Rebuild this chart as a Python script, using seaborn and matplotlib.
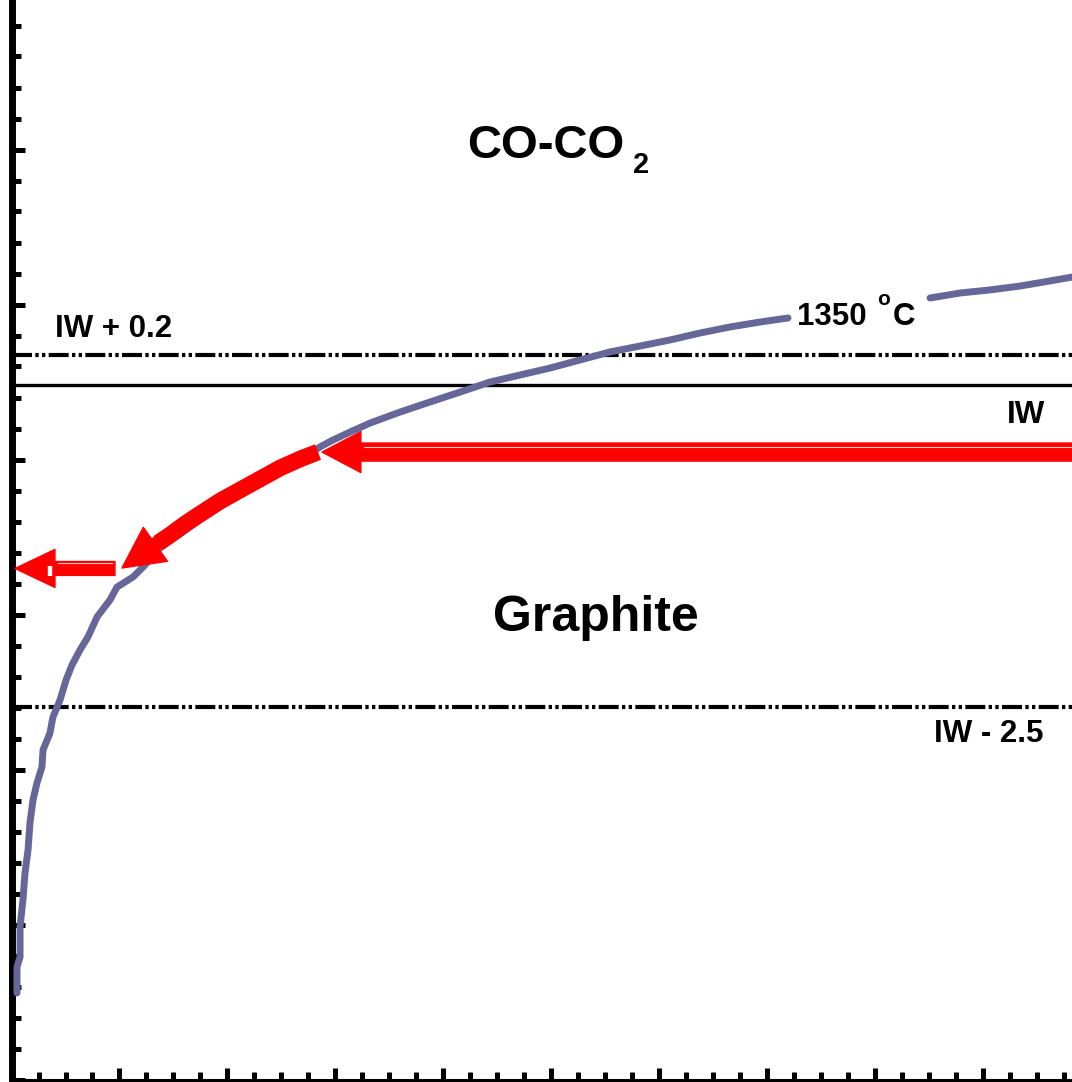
import numpy as np
import pandas as pd
import matplotlib
matplotlib.use("Agg")
import matplotlib.pyplot as plt
import seaborn as sns
from matplotlib.ticker import MultipleLocator

sns.set_theme(style="white")
plt.rcParams["font.family"] = ["Liberation Sans", "DejaVu Sans"]
plt.rcParams["text.color"] = "black"

# ---- data (arbitrary schematic units) ----
curve_x = [0.051, 0.051, 0.079, 0.079, 0.106, 0.125, 0.153, 0.171, 0.199, 0.236,
           0.282, 0.292, 0.356, 0.384, 0.449, 0.505, 0.560, 0.634, 0.708, 0.792,
           0.912, 0.977, 1.125, 1.218, 1.375, 1.560, 1.745, 1.931, 2.116, 2.301,
           2.486, 2.671, 2.856, 2.977, 3.134, 3.319, 3.597, 3.875, 4.153, 4.431,
           4.708, 4.986, 5.264, 5.542, 5.819, 6.097, 6.375, 6.653, 6.931, 7.190,
           8.505, 8.782, 9.060, 9.338, 9.616, 9.819]
curve_y = [0.558, 0.726, 0.790, 0.984, 1.158, 1.332, 1.481, 1.655, 1.803, 1.913,
           2.016, 2.126, 2.235, 2.339, 2.448, 2.577, 2.674, 2.771, 2.855, 2.984,
           3.094, 3.177, 3.242, 3.306, 3.429, 3.519, 3.610, 3.694, 3.771, 3.842,
           3.919, 3.990, 4.081, 4.126, 4.177, 4.235, 4.306, 4.371, 4.435, 4.500,
           4.545, 4.590, 4.642, 4.694, 4.732, 4.771, 4.816, 4.855, 4.887, 4.913,
           5.042, 5.074, 5.094, 5.119, 5.152, 5.177]
curve_seg = [0] * 50 + [1] * 6

red_path_x = [2.838, 2.671, 2.486, 2.301, 2.116, 1.931, 1.745, 1.606, 1.468, 1.357]
red_path_y = [4.048, 4.003, 3.945, 3.874, 3.803, 3.732, 3.648, 3.584, 3.513, 3.461]

iw_level = 4.481
iw_plus_level = 4.674
iw_minus_level = 2.403

df = pd.DataFrame({"x": curve_x, "y": curve_y, "seg": curve_seg})
red_df = pd.DataFrame({"x": red_path_x, "y": red_path_y})

W, H, DPI = 1072, 1082, 100
fig = plt.figure(figsize=(W / DPI, H / DPI), dpi=DPI)
ax = fig.add_axes([11.5 / W, 2.5 / H, 1 - 11.5 / W, 1 - 2.5 / H])

# reference lines
dashdotdot = (0, (4.8, 0.8, 0.8, 0.8, 0.8, 0.8))
ax.axhline(iw_plus_level, color="black", lw=3, linestyle=dashdotdot, zorder=2)
ax.axhline(iw_minus_level, color="black", lw=3, linestyle=dashdotdot, zorder=2)
ax.axhline(iw_level, color="black", lw=2.4, zorder=2)

# buffer curve
sns.lineplot(data=df, x="x", y="y", units="seg", estimator=None, sort=False,
             color="#666699", lw=5, ax=ax, legend=False, zorder=3)
for l in ax.lines[-2:]:
    l.set_solid_capstyle("round")
    l.set_solid_joinstyle("round")

# curved red arrow shaft
sns.lineplot(data=red_df, x="x", y="y", sort=False, color="red", lw=12, ax=ax,
             legend=False, zorder=4)
ax.lines[-1].set_solid_capstyle("butt")
ax.lines[-1].set_solid_joinstyle("round")
ax.annotate("", xy=(1.023, 3.300), xytext=(1.357, 3.465),
            arrowprops=dict(arrowstyle="simple,head_length=2.95,head_width=3.0,tail_width=0.9",
                            fc="red", ec="red", lw=1, shrinkA=0, shrinkB=0,
                            mutation_scale=10), zorder=5)

# long straight red arrow
ax.annotate("", xy=(2.875, 4.048), xytext=(10.3, 4.048), annotation_clip=False,
            arrowprops=dict(arrowstyle="simple,head_length=2.8,head_width=2.95,tail_width=1.3",
                            fc="red", ec="red", lw=1, shrinkA=0, shrinkB=0,
                            mutation_scale=10), zorder=5)
ax.plot([3.26, 9.9], [4.081, 4.081], color="white", lw=0.8, alpha=0.8, zorder=6)

# small left red arrow
ax.annotate("", xy=(0.032, 3.297), xytext=(0.958, 3.297),
            arrowprops=dict(arrowstyle="simple,head_length=2.88,head_width=2.74,tail_width=1.0",
                            fc="red", ec="red", lw=1, shrinkA=0, shrinkB=0,
                            mutation_scale=10), zorder=5)
ax.plot([0.43, 0.93], [3.330, 3.330], color="white", lw=0.8, alpha=0.8, zorder=6)
ax.plot([0.361, 0.361], [3.250, 3.315], color="white", lw=3.2, zorder=6,
        solid_capstyle="butt")

# texts
tk = dict(fontweight="bold", color="black", va="baseline")
ax.text(4.949, 5.945, "CO-CO", fontsize=34, ha="center", **tk)
ax.text(5.755, 5.848, "2", fontsize=21, ha="left", **tk)
ax.text(5.412, 2.895, "Graphite", fontsize=36, ha="center", **tk)
ax.text(0.403, 4.790, "IW + 0.2", fontsize=22.5, ha="left", **tk)
ax.text(9.569, 4.235, "IW", fontsize=22.5, ha="right", **tk)
ax.text(9.551, 2.177, "IW - 2.5", fontsize=22.5, ha="right", **tk)
ax.text(7.273, 4.868, "1350", fontsize=22.5, ha="left", **tk)
ax.text(8.014, 4.997, "o", fontsize=15, ha="left", **tk)
ax.text(8.162, 4.868, "C", fontsize=22.5, ha="left", **tk)

# axes styling
ax.set_xlim(0, 1060.5 / 108)
ax.set_ylim(0, 1079.5 / 155)
ax.set_xlabel("")
ax.set_ylabel("")
for s in ["top", "right"]:
    ax.spines[s].set_visible(False)
ax.spines["left"].set_linewidth(5)
ax.spines["left"].set_color("black")
ax.spines["bottom"].set_linewidth(2.2)
ax.spines["bottom"].set_color("black")
ax.xaxis.set_major_locator(MultipleLocator(1))
ax.xaxis.set_minor_locator(MultipleLocator(0.25))
ax.yaxis.set_major_locator(MultipleLocator(1))
ax.yaxis.set_minor_locator(MultipleLocator(0.2))
ax.tick_params(axis="both", which="both", direction="in", color="black",
               labelleft=False, labelbottom=False, left=True, bottom=True, width=3.6)
ax.tick_params(axis="y", which="major", length=9)
ax.tick_params(axis="y", which="minor", length=6.5)
ax.tick_params(axis="x", which="major", length=8.6)
ax.tick_params(axis="x", which="minor", length=5.8)
ax.set_facecolor("white")
fig.patch.set_facecolor("white")

fig.savefig("out.png", dpi=DPI, facecolor="white")
